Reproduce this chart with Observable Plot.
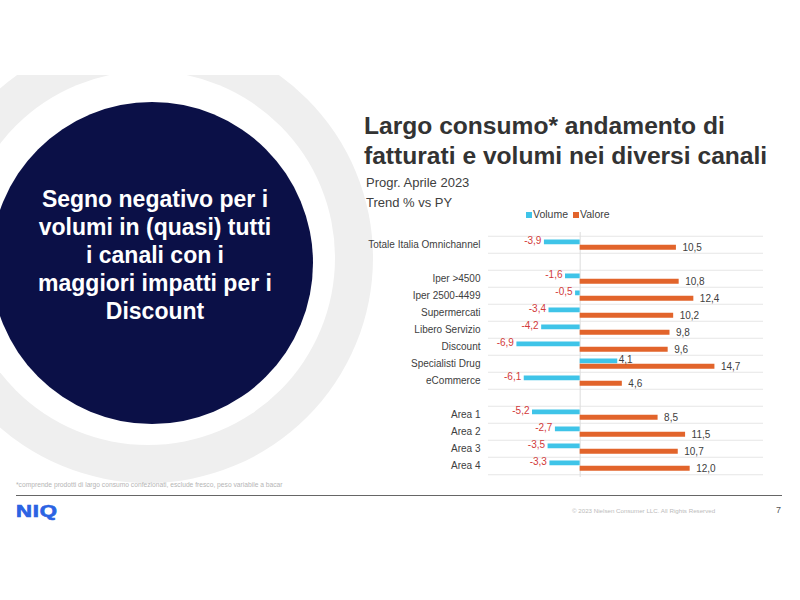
<!DOCTYPE html>
<html>
<head>
<meta charset="utf-8">
<script src="https://cdn.jsdelivr.net/npm/d3@7"></script>
<script src="https://cdn.jsdelivr.net/npm/@observablehq/plot@0.6"></script>
<style>
  body { margin: 0; background: #fff; font-family: "Liberation Sans", Arial, sans-serif; }
  #page { position: relative; width: 800px; height: 600px; overflow: hidden; background: #fff; }
  #slide { position: absolute; left: 0; top: 75px; width: 800px; height: 450px; overflow: hidden; background: #fff; }
  .disc { position: absolute; border-radius: 50%; }
  #ringOuter { left: -77px; top: -42px; width: 450px; height: 450px; background: #efefef; }
  #ringInner { left: -39px; top: -4px; width: 374px; height: 374px; background: #fff; }
  #navy { left: -9px; top: 27px; width: 322px; height: 322px; background: #0b1047; }
  #msg { position: absolute; left: 15px; top: 110px; width: 280px; text-align: center; color: #fff;
         font-weight: bold; font-size: 23px; line-height: 28px; }
  #title { position: absolute; left: 364px; top: 36px; color: #333; font-weight: bold;
           font-size: 24.6px; line-height: 29.5px; white-space: nowrap; }
  #sub { position: absolute; left: 366px; top: 97.5px; color: #404040; font-size: 13px; line-height: 20px; }
  #legend { position: absolute; left: 526px; top: 132px; font-size: 10.5px; line-height: 14px; color: #404040; white-space: nowrap; }
  #legend .sw { display: inline-block; width: 6px; height: 6px; margin-right: 1px; vertical-align: 0px; }
  #legend .item { margin-right: 5px; }
  #chart { position: absolute; left: 360px; top: 149px; }
  #foot { position: absolute; left: 16px; top: 405.5px; font-size: 6.7px; color: #b5b5b5; white-space: nowrap; }
  #rule { position: absolute; left: 16px; top: 420px; width: 766px; height: 1px; background: #666; }
  #logo { position: absolute; left: 16px; top: 427px; font-size: 17px; line-height: 20px; font-weight: bold; color: #2b63e3;
          letter-spacing: 0.6px; transform: scaleX(1.3); transform-origin: left center; -webkit-text-stroke: 0.7px #2b63e3; }
  #copy { position: absolute; left: 572px; top: 432px; font-size: 6.2px; color: #bbb; white-space: nowrap; }
  #pnum { position: absolute; left: 776px; top: 430px; font-size: 9px; color: #555; }
</style>
</head>
<body>
<div id="page">
  <div id="slide">
    <div id="ringOuter" class="disc"></div>
    <div id="ringInner" class="disc"></div>
    <div id="navy" class="disc"></div>
    <div id="msg">Segno negativo per i<br>volumi in (quasi) tutti<br>i canali con i<br>maggiori impatti per i<br>Discount</div>
    <div id="title">Largo consumo* andamento di<br>fatturati e volumi nei diversi canali</div>
    <div id="sub">Progr. Aprile 2023<br>Trend % vs PY</div>
    <div id="legend"></div>
    <div id="chart"></div>
    <div id="foot">*comprende prodotti di largo consumo confezionati, esclude fresco, peso variabile a bacar</div>
    <div id="rule"></div>
    <div id="logo">NIQ</div>
    <div id="copy">© 2023 Nielsen Consumer LLC. All Rights Reserved</div>
    <div id="pnum">7</div>
  </div>
</div>
<script>
// ---- data ----
const rows = ["Totale Italia Omnichannel", " ", "Iper >4500", "Iper 2500-4499", "Supermercati",
  "Libero Servizio", "Discount", "Specialisti Drug", "eCommerce", "  ",
  "Area 1", "Area 2", "Area 3", "Area 4"];
const channels = ["Totale Italia Omnichannel", "Iper >4500", "Iper 2500-4499", "Supermercati",
  "Libero Servizio", "Discount", "Specialisti Drug", "eCommerce",
  "Area 1", "Area 2", "Area 3", "Area 4"];
const volume = [-3.9, -1.6, -0.5, -3.4, -4.2, -6.9, 4.1, -6.1, -5.2, -2.7, -3.5, -3.3];
const valore = [10.5, 10.8, 12.4, 10.2, 9.8, 9.6, 14.7, 4.6, 8.5, 11.5, 10.7, 12.0];
const seriesNames = ["Volume", "Valore"];
const seriesColors = ["#3fc4e8", "#e2642b"];

const data = channels.map((c, i) => ({channel: c, volume: volume[i], valore: valore[i]}));
const fmt = v => v.toFixed(1).replace(".", ",");

// legend
document.getElementById("legend").innerHTML = seriesNames.map((s, i) =>
  `<span class="item"><span class="sw" style="background:${seriesColors[i]}"></span>${s}</span>`).join("");

const half = 8.75;
const chart = Plot.plot({
  width: 420,
  height: 264,
  marginLeft: 128,
  marginRight: 17,
  marginTop: 8,
  marginBottom: 11,
  style: {fontFamily: "'Liberation Sans', Arial, sans-serif", fontSize: "10px", color: "#404040", background: "transparent"},
  x: {domain: [-10, 20], axis: null},
  y: {domain: rows, padding: 0, label: null, tickSize: 0, tickPadding: 8, tickFormat: d => d.trim()},
  marks: [
    Plot.ruleY(rows, {dy: -half, stroke: "#e6e6e6"}),
    Plot.ruleY([rows[rows.length - 1]], {dy: half, stroke: "#e6e6e6"}),
    Plot.ruleX([0], {stroke: "#dcdcdc"}),
    Plot.barX(data, {x: "volume", y: "channel", fill: seriesColors[0], insetTop: 3.5, insetBottom: half}),
    Plot.barX(data, {x: "valore", y: "channel", fill: seriesColors[1], insetTop: half, insetBottom: 3.25}),
    Plot.text(data.filter(d => d.volume < 0), {x: "volume", y: "channel", text: d => fmt(d.volume),
      textAnchor: "end", dx: -3, dy: -4, fill: "#d23a3a", fontSize: 10}),
    Plot.text(data.filter(d => d.volume >= 0), {x: "volume", y: "channel", text: d => fmt(d.volume),
      textAnchor: "start", dx: 1, dy: -4, fill: "#404040", fontSize: 10}),
    Plot.text(data, {x: "valore", y: "channel", text: d => fmt(d.valore),
      textAnchor: "start", dx: 6, dy: 2.5, fill: "#404040", fontSize: 10})
  ]
});
document.getElementById("chart").appendChild(chart);
</script>
</body>
</html>
